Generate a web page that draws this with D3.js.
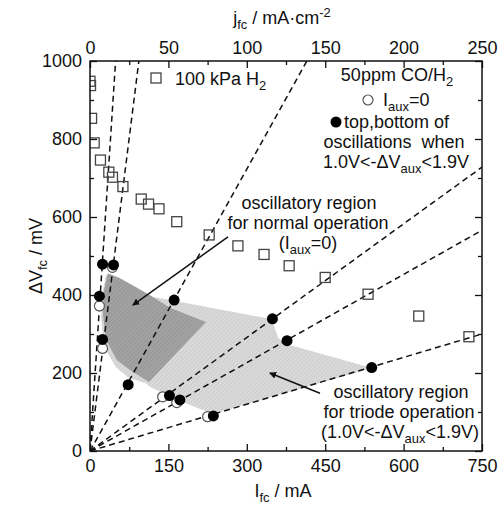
<!DOCTYPE html>
<html>
<head>
<meta charset="utf-8">
<script src="https://cdn.jsdelivr.net/npm/d3@7"></script>
<style>
  body { margin: 0; background: #fff; }
  text { font-family: "Liberation Sans", Arial, sans-serif; fill: #111; }
</style>
</head>
<body>
<div id="wrapper"></div>
<script>
// 100 kPa H2 (open squares)
const squareI = [0, 1, 3, 8, 20, 36, 43, 63, 98, 112, 132, 166, 228, 283, 333, 381, 450, 532, 629, 725];
const squareV = [948, 937, 853, 790, 746, 715, 702, 678, 646, 633, 621, 588, 554, 526, 504, 475, 445, 402, 346, 293];
// 50ppm CO/H2, Iaux = 0 (open circles)
const openI = [43, 18, 24, 139, 166, 225];
const openV = [471, 372, 263, 139, 124, 88];
// top / bottom of oscillations (filled circles)
const filledI = [24, 45, 18, 24, 161, 349, 73, 152, 172, 236, 377, 539];
const filledV = [479, 477, 397, 286, 387, 339, 170, 142, 131, 90, 283, 214];
// load lines from the origin: end points [I, V]
const loadLineEnds = [[49, 1000], [93.5, 1000], [415, 1000], [750, 728], [750, 566], [750, 300]];
// oscillatory regions [I, V]
const normalRegion = [[34, 456], [55.5, 444], [88, 420], [120.5, 395], [153, 367], [222, 331],
  [113, 177], [76.5, 208], [51.7, 233], [30.6, 285], [24.9, 349], [26.8, 413]];
const triodeRegion = [[30.6, 451], [55.5, 444], [88, 420], [120.5, 395], [160.7, 385], [348, 338],
  [360, 290], [377, 274], [539.5, 213], [235, 95], [172, 128], [115, 164], [107, 174],
  [74.6, 187], [49.7, 215], [26.8, 267], [21, 344], [24.9, 413]];
// ticks
const xTicks = [0, 150, 300, 450, 600, 750];
const xMinor = [75, 225, 375, 525, 675];
const yTicks = [0, 200, 400, 600, 800, 1000];
const yMinor = [100, 300, 500, 700, 900];
const jTicks = [0, 50, 100, 150, 200, 250];
const jMinor = [25, 75, 125, 175, 225];

const dimensions = {
  width: 504,
  height: 508,
  margin: { top: 61, right: 22, bottom: 57, left: 90 },
};
dimensions.boundedWidth = dimensions.width - dimensions.margin.left - dimensions.margin.right;
dimensions.boundedHeight = dimensions.height - dimensions.margin.top - dimensions.margin.bottom;

const fs = 18;

const wrapper = d3.select("#wrapper")
  .append("svg")
  .attr("width", dimensions.width)
  .attr("height", dimensions.height);

const defs = wrapper.append("defs");
function hatch(id, bg, fg) {
  const p = defs.append("pattern")
    .attr("id", id)
    .attr("patternUnits", "userSpaceOnUse")
    .attr("width", 3).attr("height", 3)
    .attr("patternTransform", "rotate(45)");
  p.append("rect").attr("width", 3).attr("height", 3).attr("fill", bg);
  p.append("line").attr("x1", 0).attr("y1", 0).attr("x2", 0).attr("y2", 3)
    .attr("stroke", fg).attr("stroke-width", 1.2);
}
hatch("hatchLight", "#dadada", "#c4c4c4");
hatch("hatchDark", "#a3a3a3", "#8e8e8e");

defs.append("marker")
  .attr("id", "arrow")
  .attr("viewBox", "0 0 10 10")
  .attr("refX", 9).attr("refY", 5)
  .attr("markerWidth", 7).attr("markerHeight", 7)
  .attr("markerUnits", "userSpaceOnUse")
  .attr("orient", "auto")
  .append("path").attr("d", "M0,0 L10,5 L0,10 z").attr("fill", "#111");

const bounds = wrapper.append("g")
  .attr("transform", `translate(${dimensions.margin.left},${dimensions.margin.top})`);

const xScale = d3.scaleLinear().domain([0, 750]).range([0, dimensions.boundedWidth]);
const yScale = d3.scaleLinear().domain([0, 1000]).range([dimensions.boundedHeight, 0]);
const jScale = d3.scaleLinear().domain([0, 250]).range([0, dimensions.boundedWidth]);

const clip = defs.append("clipPath").attr("id", "plotClip");
clip.append("rect").attr("width", dimensions.boundedWidth).attr("height", dimensions.boundedHeight);

const plot = bounds.append("g").attr("clip-path", "url(#plotClip)");

const area = d3.line().x((d) => xScale(d[0])).y((d) => yScale(d[1])).curve(d3.curveLinearClosed);

plot.append("path").attr("d", area(triodeRegion)).attr("fill", "url(#hatchLight)");
plot.append("path").attr("d", area(normalRegion)).attr("fill", "url(#hatchDark)");

// load lines
plot.selectAll(".load")
  .data(loadLineEnds)
  .join("line")
  .attr("x1", xScale(0)).attr("y1", yScale(0))
  .attr("x2", (d) => xScale(d[0])).attr("y2", (d) => yScale(d[1]))
  .attr("stroke", "#111")
  .attr("stroke-width", 1.5)
  .attr("stroke-dasharray", "6,4");

// squares
const sq = 10;
plot.selectAll(".sq")
  .data(d3.zip(squareI, squareV))
  .join("rect")
  .attr("x", (d) => xScale(d[0]) - sq / 2)
  .attr("y", (d) => yScale(d[1]) - sq / 2)
  .attr("width", sq).attr("height", sq)
  .attr("fill", "none")
  .attr("stroke", "#444")
  .attr("stroke-width", 1.3);

// open circles
plot.selectAll(".oc")
  .data(d3.zip(openI, openV))
  .join("circle")
  .attr("cx", (d) => xScale(d[0])).attr("cy", (d) => yScale(d[1]))
  .attr("r", 5)
  .attr("fill", "#fff")
  .attr("stroke", "#555")
  .attr("stroke-width", 1.2);

// filled circles
plot.selectAll(".fc")
  .data(d3.zip(filledI, filledV))
  .join("circle")
  .attr("cx", (d) => xScale(d[0])).attr("cy", (d) => yScale(d[1]))
  .attr("r", 5.5)
  .attr("fill", "#000");

// arrows
const arrows = [[[264, 549], [82, 374]], [[440, 148], [344, 200]]];
bounds.selectAll(".arrow")
  .data(arrows)
  .join("line")
  .attr("x1", (d) => xScale(d[0][0])).attr("y1", (d) => yScale(d[0][1]))
  .attr("x2", (d) => xScale(d[1][0])).attr("y2", (d) => yScale(d[1][1]))
  .attr("stroke", "#111")
  .attr("stroke-width", 1.5)
  .attr("marker-end", "url(#arrow)");

// axes
const fmt = d3.format("d");
function styleAxis(g) {
  g.select(".domain").remove();
  g.selectAll(".tick line").attr("stroke", "#111").attr("stroke-width", 1.3);
  g.selectAll(".tick text").style("font-size", fs + "px").attr("fill", "#111");
}
bounds.append("g")
  .attr("transform", `translate(0,${dimensions.boundedHeight})`)
  .call(d3.axisBottom(xScale).tickValues(xTicks).tickFormat(fmt).tickSize(-7).tickPadding(8))
  .call(styleAxis);
bounds.append("g")
  .attr("transform", `translate(0,${dimensions.boundedHeight})`)
  .call(d3.axisBottom(xScale).tickValues(xMinor).tickSize(-4).tickFormat(""))
  .call(styleAxis);
bounds.append("g")
  .call(d3.axisTop(jScale).tickValues(jTicks).tickFormat(fmt).tickSize(-7).tickPadding(7))
  .call(styleAxis);
bounds.append("g")
  .call(d3.axisTop(jScale).tickValues(jMinor).tickSize(-4).tickFormat(""))
  .call(styleAxis);
bounds.append("g")
  .call(d3.axisLeft(yScale).tickValues(yTicks).tickFormat(fmt).tickSize(-7).tickPadding(8))
  .call(styleAxis);
bounds.append("g")
  .call(d3.axisLeft(yScale).tickValues(yMinor).tickSize(-4).tickFormat(""))
  .call(styleAxis);
bounds.append("g")
  .attr("transform", `translate(${dimensions.boundedWidth},0)`)
  .call(d3.axisRight(yScale).tickValues(yTicks).tickSize(-7).tickFormat(""))
  .call(styleAxis);
bounds.append("g")
  .attr("transform", `translate(${dimensions.boundedWidth},0)`)
  .call(d3.axisRight(yScale).tickValues(yMinor).tickSize(-4).tickFormat(""))
  .call(styleAxis);

bounds.append("rect")
  .attr("width", dimensions.boundedWidth)
  .attr("height", dimensions.boundedHeight)
  .attr("fill", "none")
  .attr("stroke", "#111")
  .attr("stroke-width", 1.5);

// rich text helper: parts = [[string, "sub" | "sup" | null]]
function richText(parent, x, y, parts, anchor = "middle", size = fs) {
  const t = parent.append("text")
    .attr("x", x).attr("y", y)
    .attr("text-anchor", anchor)
    .style("font-size", size + "px")
    .style("white-space", "pre");
  let shift = 0;
  parts.forEach(([s, k]) => {
    const target = k === "sub" ? 0.25 * size : k === "sup" ? -0.38 * size : 0;
    t.append("tspan")
      .attr("dy", target - shift)
      .style("font-size", (k ? 0.72 * size : size) + "px")
      .text(s);
    shift = target;
  });
  return t;
}

// axis titles
richText(wrapper, 283, 497, [["I", null], ["fc", "sub"], [" / mA", null]]);
richText(wrapper, 282, 24, [["j", null], ["fc", "sub"], [" / mA·cm", null], ["-2", "sup"]]);
const yTitle = wrapper.append("g").attr("transform", "translate(42,256) rotate(-90)");
richText(yTitle, 0, 0, [["ΔV", null], ["fc", "sub"], [" / mV", null]]);

// legends
wrapper.append("rect")
  .attr("x", 151).attr("y", 73).attr("width", sq).attr("height", sq)
  .attr("fill", "none").attr("stroke", "#444").attr("stroke-width", 1.3);
richText(wrapper, 175, 85, [["100 kPa H", null], ["2", "sub"]], "start");

richText(wrapper, 397, 81, [["50ppm CO/H", null], ["2", "sub"]]);
wrapper.append("circle").attr("cx", 368).attr("cy", 100).attr("r", 5)
  .attr("fill", "#fff").attr("stroke", "#555").attr("stroke-width", 1.2);
richText(wrapper, 383, 106, [["I", null], ["aux", "sub"], ["=0", null]], "start");
wrapper.append("circle").attr("cx", 336).attr("cy", 122).attr("r", 5.5).attr("fill", "#000");
richText(wrapper, 344, 128, [["top,bottom of", null]], "start");
richText(wrapper, 394, 148, [["oscillations  when", null]]);
richText(wrapper, 396, 168, [["1.0V<-ΔV", null], ["aux", "sub"], ["<1.9V", null]]);

// annotations
richText(wrapper, 309, 209, [["oscillatory region", null]]);
richText(wrapper, 308, 229, [["for normal operation", null]]);
richText(wrapper, 308, 249, [["(I", null], ["aux", "sub"], ["=0)", null]]);

richText(wrapper, 401, 398, [["oscillatory region", null]]);
richText(wrapper, 399, 418, [["for triode operation", null]]);
richText(wrapper, 400, 438, [["(1.0V<-ΔV", null], ["aux", "sub"], ["<1.9V)", null]]);
</script>
</body>
</html>
